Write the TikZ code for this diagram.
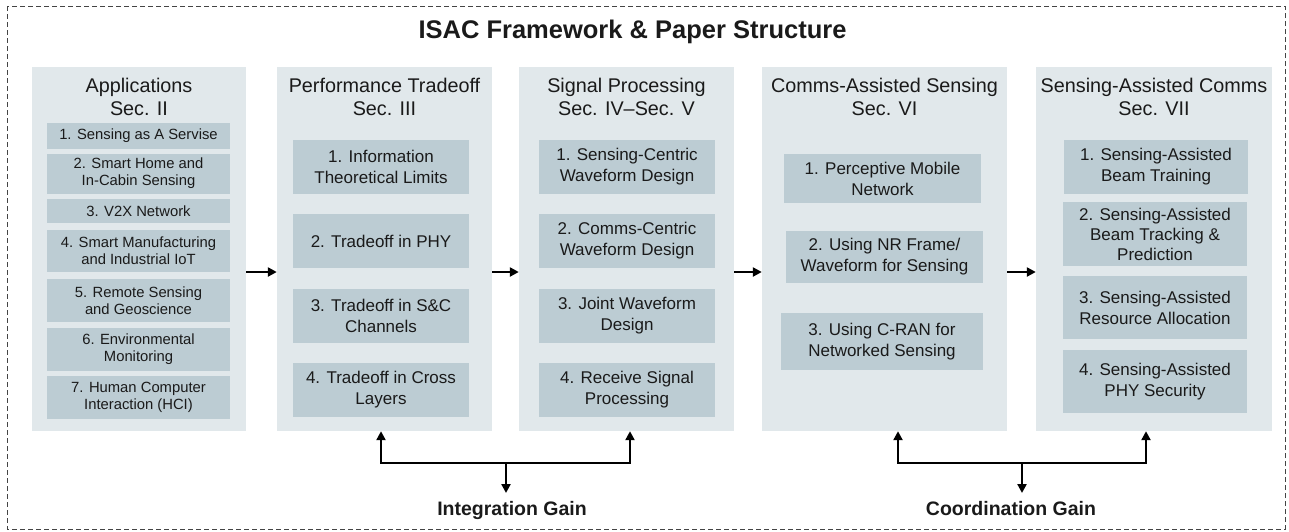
\documentclass[tikz,border=0pt]{standalone}
\usepackage{fontspec}
\setmainfont{Liberation Sans}
\usetikzlibrary{arrows.meta}
\definecolor{colbg}{HTML}{E1E8EB}
\definecolor{itembg}{HTML}{BCCCD3}
\definecolor{ink}{HTML}{1A1A1A}
\definecolor{frameline}{HTML}{444444}
\tikzset{
  column/.style={fill=colbg, draw=none, inner sep=0pt, minimum width=#1, minimum height=364pt},
  colhead/.style={text=ink, align=center, inner sep=0pt, font=\fontsize{19.8}{23}\selectfont},
  appitem/.style={fill=itembg, draw=none, inner sep=0pt, align=center, text=ink,
    font=\fontsize{14.8}{17}\selectfont},
  topic/.style={fill=itembg, draw=none, inner sep=0pt, align=center, text=ink,
    font=\fontsize{17}{21}\selectfont},
  flow/.style={line width=2.7pt, draw=black, line join=miter,
    -{Triangle[length=9pt,width=9pt]}},
  gainlink/.style={line width=2.7pt, draw=black, line join=miter,
    {Triangle[length=9pt,width=9pt]}-{Triangle[length=9pt,width=9pt]}},
  gain/.style={font=\bfseries\fontsize{19.5}{22}\selectfont, text=ink, inner xsep=0pt, inner ysep=8pt, anchor=north},
}
\begin{document}
\begin{tikzpicture}[x=1pt, y=-1pt]
\useasboundingbox (0,0) rectangle (1289,531);
% outer frame
\draw[frameline, line width=1pt, dash pattern=on 5pt off 3pt] (7,6) rectangle (1285,529);
\node[font=\bfseries\fontsize{25.5}{30}\selectfont, text=ink] (title) at (632.5,32) {ISAC Framework \& Paper Structure};

% columns
\node[column=214pt] (c1) at (139,249) {};
\node[column=215pt] (c2) at (384.5,249) {};
\node[column=215pt] (c3) at (626.5,249) {};
\node[column=245pt] (c4) at (884.5,249) {};
\node[column=236pt] (c5) at (1154,249) {};

% column headings
\node[colhead] (h1) at (139,97) {Applications\\Sec. II};
\node[colhead] (h2) at (384.5,97) {Performance Tradeoff\\Sec. III};
\node[colhead] (h3) at (626.5,97) {Signal Processing\\Sec. IV--Sec. V};
\node[colhead] (h4) at (884.5,97) {Comms-Assisted Sensing\\Sec. VI};
\node[colhead] (h5) at (1154,97) {Sensing-Assisted Comms\\Sec. VII};

% applications
\node[appitem, minimum width=183pt, minimum height=26pt] (a1) at (138.5,136) {1. Sensing as A Servise};
\node[appitem, minimum width=183pt, minimum height=40pt] (a2) at (138.5,173.5) {2. Smart Home and\\In-Cabin Sensing};
\node[appitem, minimum width=183pt, minimum height=24pt] (a3) at (138.5,211) {3. V2X Network};
\node[appitem, minimum width=183pt, minimum height=42pt] (a4) at (138.5,251) {4. Smart Manufacturing\\and Industrial IoT};
\node[appitem, minimum width=183pt, minimum height=43pt] (a5) at (138.5,300.5) {5. Remote Sensing\\and Geoscience};
\node[appitem, minimum width=183pt, minimum height=43pt] (a6) at (138.5,349.5) {6. Environmental\\Monitoring};
\node[appitem, minimum width=183pt, minimum height=43pt] (a7) at (138.5,397.5) {7. Human Computer\\Interaction (HCI)};

% performance tradeoff
\node[topic, minimum width=176pt, minimum height=54pt] (p1) at (381,167) {1. Information\\Theoretical Limits};
\node[topic, minimum width=176pt, minimum height=54pt] (p2) at (381,241) {2. Tradeoff in PHY};
\node[topic, minimum width=176pt, minimum height=54pt] (p3) at (381,316) {3. Tradeoff in S\&C\\Channels};
\node[topic, minimum width=176pt, minimum height=54pt] (p4) at (381,390) {4. Tradeoff in Cross\\Layers};

% signal processing
\node[topic, minimum width=176pt, minimum height=54pt] (s1) at (627,167) {1. Sensing-Centric\\Waveform Design};
\node[topic, minimum width=176pt, minimum height=54pt] (s2) at (627,241) {2. Comms-Centric\\Waveform Design};
\node[topic, minimum width=176pt, minimum height=54pt] (s3) at (627,316) {3. Joint Waveform\\Design};
\node[topic, minimum width=176pt, minimum height=54pt] (s4) at (627,390) {4. Receive Signal\\Processing};

% comms-assisted sensing
\node[topic, minimum width=197pt, minimum height=49pt] (m1) at (882.5,178.5) {1. Perceptive Mobile\\Network};
\node[topic, minimum width=197pt, minimum height=52pt] (m2) at (884.5,257) {2. Using NR Frame/\\Waveform for Sensing};
\node[topic, minimum width=202pt, minimum height=57pt] (m3) at (882,341.5) {3. Using C-RAN for\\Networked Sensing};

% sensing-assisted comms
\node[topic, minimum width=184pt, minimum height=54pt] (n1) at (1156,167) {1. Sensing-Assisted\\Beam Training};
\node[topic, minimum width=184pt, minimum height=64pt, font=\fontsize{17}{20}\selectfont] (n2) at (1155,234) {2. Sensing-Assisted\\Beam Tracking \&\\Prediction};
\node[topic, minimum width=184pt, minimum height=63pt] (n3) at (1155,307.5) {3. Sensing-Assisted\\Resource Allocation};
\node[topic, minimum width=184pt, minimum height=63pt] (n4) at (1155,381.5) {4. Sensing-Assisted\\PHY Security};

% flow between sections
\draw[flow] (c1.east |- 0,272) -- (c2.west |- 0,272);
\draw[flow] (c2.east |- 0,272) -- (c3.west |- 0,272);
\draw[flow] (c3.east |- 0,272) -- (c4.west |- 0,272);
\draw[flow] (c4.east |- 0,272) -- (c5.west |- 0,272);

% gains
\node[gain] (ig) at (512,493) {Integration Gain};
\node[gain] (cg) at (1011,493) {Coordination Gain};

\coordinate (iL) at (381,463);
\coordinate (iR) at (630,463);
\coordinate (iM) at (506,463);
\coordinate (cL) at (898,463);
\coordinate (cR) at (1146,463);
\coordinate (cM) at (1022,463);

\draw[gainlink] (iL |- c2.south) -- (iL) -- (iR) -- (iR |- c3.south);
\draw[flow] (iM) -- (iM |- ig.north);
\draw[gainlink] (cL |- c4.south) -- (cL) -- (cR) -- (cR |- c5.south);
\draw[flow] (cM) -- (cM |- cg.north);
\end{tikzpicture}
\end{document}
